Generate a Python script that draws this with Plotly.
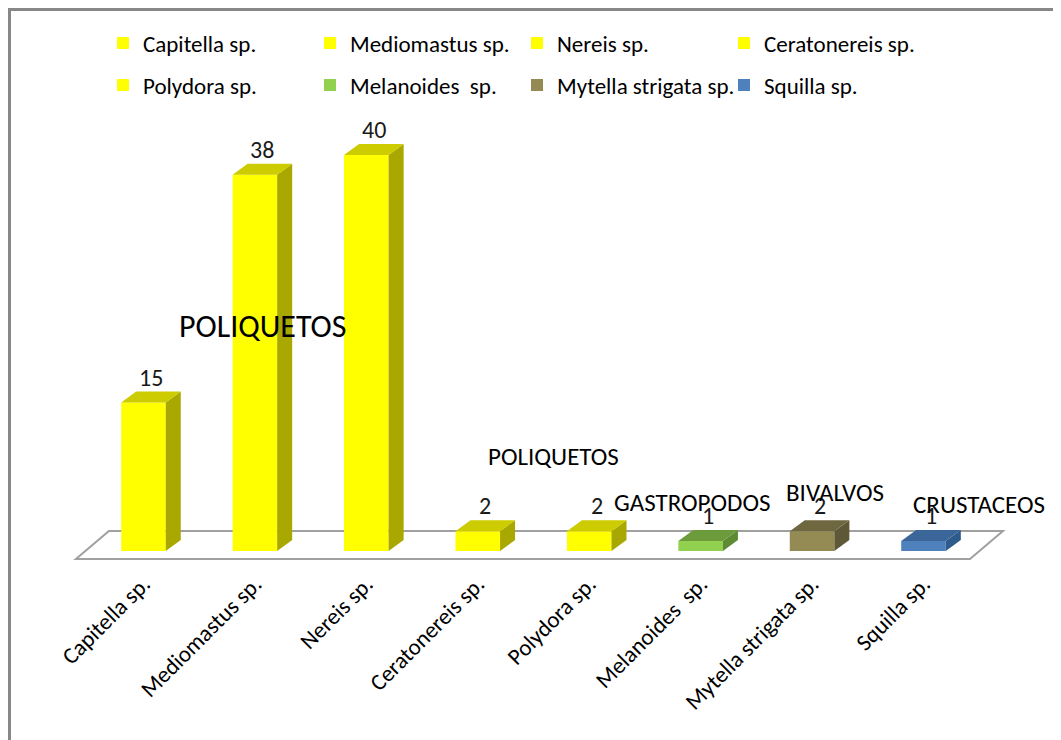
import plotly.graph_objects as go

# ---- data ----
species = ["Capitella sp.", "Mediomastus sp.", "Nereis sp.", "Ceratonereis sp.",
           "Polydora sp.", "Melanoides  sp.", "Mytella strigata sp.", "Squilla sp."]
counts = [15, 38, 40, 2, 2, 1, 2, 1]
group_labels = ["POLIQUETOS", "POLIQUETOS", "GASTROPODOS", "BIVALVOS", "CRUSTACEOS"]

# ---- styles ----
front_colors = ["#FFFF00"] * 5 + ["#92D050", "#948A54", "#4F81BD"]
top_colors = ["#CCCC00"] * 5 + ["#6B9B3A", "#6E6740", "#3A6699"]
side_colors = ["#A8A800"] * 5 + ["#5E8A33", "#5E5836", "#2F5A8C"]
group_pos = [(1.07, 22.7), (3.68, 9.5), (4.93, 4.95), (6.21, 5.96), (7.5, 4.65)]
group_sizes = [32, 25, 25, 25, 25]

FONT = "Carlito, Lato, sans-serif"
OFF = 8                      # page body margin
W, H = 1061 - OFF, 740 - OFF
ML, MR, MT, MB = 52, 41, 102, 175
PW, PH = W - ML - MR, H - MT - MB
PLOT_LEFT_WIN = OFF + ML
PLOT_BOTTOM_WIN = OFF + H - MB
X_RANGE = [-0.749, 7.866]
Y_RANGE = [-1.414, 44.55]
px_x = PW / (X_RANGE[1] - X_RANGE[0])
px_y = PH / (Y_RANGE[1] - Y_RANGE[0])
BW = 0.4
DX = 15 / px_x
DY = 11 / px_y


def paper_x(px):
    return (px - PLOT_LEFT_WIN) / PW


def paper_y(py):
    return (PLOT_BOTTOM_WIN - py) / PH


fig = go.Figure()
n = len(species)
for i, (name, v) in enumerate(zip(species, counts)):
    fig.add_trace(go.Bar(
        x=[i], y=[v], width=BW, name=name,
        marker=dict(color=front_colors[i], line=dict(width=0)),
        legend="legend" if i < 4 else "legend2",
        hoverinfo="x+y",
    ))
for i, v in enumerate(counts):
    x0, x1 = i - BW / 2, i + BW / 2
    fig.add_trace(go.Scatter(
        x=[x1, x1 + DX, x1 + DX, x1, x1], y=[0, DY, v + DY, v, 0],
        fill="toself", fillcolor=side_colors[i], mode="lines",
        line=dict(width=0, color=side_colors[i]), showlegend=False, hoverinfo="skip"))
    fig.add_trace(go.Scatter(
        x=[x0, x1, x1 + DX, x0 + DX, x0], y=[v, v, v + DY, v + DY, v],
        fill="toself", fillcolor=top_colors[i], mode="lines",
        line=dict(width=0, color=top_colors[i]), showlegend=False, hoverinfo="skip"))
    fig.add_annotation(x=i + DX / 2, y=v + DY, text=str(v), showarrow=False,
                       yanchor="bottom", xanchor="center", yshift=-2,
                       font=dict(family=FONT, size=24, color="#1a1a1a"))

for lab, (gx, gy), fs in zip(group_labels, group_pos, group_sizes):
    fig.add_annotation(x=gx, y=gy, text=lab, showarrow=False,
                       xanchor="center", yanchor="middle",
                       font=dict(family=FONT, size=fs, color="#000000"))

# floor (3D base plane)
fl_left, fl_right = -0.606, (n - 1) + 0.417
f_dx, f_dy = 2.2 * DX, 2.55 * DY
f_front = -8 / px_y
path = (f"M {fl_left},{f_front} L {fl_right},{f_front} "
        f"L {fl_right + f_dx},{f_front + f_dy} L {fl_left + f_dx},{f_front + f_dy} Z")
fig.add_shape(type="path", path=path, xref="x", yref="y", layer="below",
              fillcolor="white", line=dict(color="#A0A0A0", width=2))

# outer border
fig.add_shape(type="rect", xref="paper", yref="paper",
              x0=paper_x(9.5), x1=paper_x(1058.5),
              y0=paper_y(760), y1=paper_y(9.5),
              line=dict(color="#878787", width=3), fillcolor="rgba(0,0,0,0)", layer="above")

legend_common = dict(orientation="h", xanchor="left", yanchor="middle",
                     entrywidth=162, entrywidthmode="pixels",
                     font=dict(family=FONT, size=23, color="#000000"),
                     bgcolor="rgba(0,0,0,0)", itemclick=False, itemdoubleclick=False)

fig.update_layout(
    width=W, height=H,
    margin=dict(l=ML, r=MR, t=MT, b=MB),
    paper_bgcolor="white", plot_bgcolor="white",
    barmode="overlay", showlegend=True,
    legend=dict(x=paper_x(103), y=paper_y(43), **legend_common),
    legend2=dict(x=paper_x(103), y=paper_y(85), **legend_common),
    xaxis=dict(range=X_RANGE, tickmode="array", tickvals=list(range(n)), ticktext=species,
               tickangle=-45, showgrid=False, zeroline=False, showline=False, ticks="",
               ticklabelstandoff=0,
               tickfont=dict(family=FONT, size=23, color="#000000")),
    yaxis=dict(range=Y_RANGE, visible=False, showgrid=False, zeroline=False),
    font=dict(family=FONT),
)

fig.write_html("out.html")
